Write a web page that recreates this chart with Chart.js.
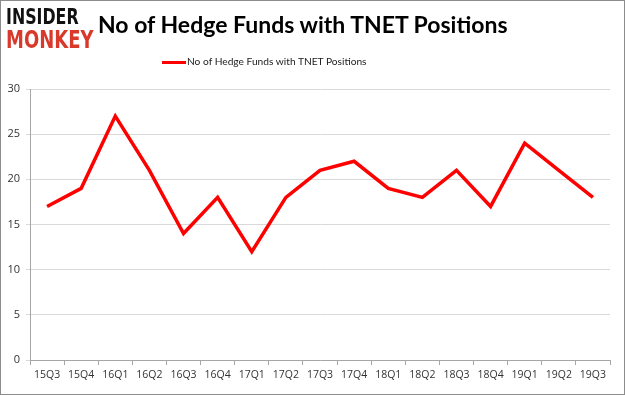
<!DOCTYPE html>
<html>
<head>
<meta charset="utf-8">
<script src="https://cdn.jsdelivr.net/npm/chart.js@4"></script>
<style>
  body { margin: 0; background: #fff; }
  #wrap { position: relative; width: 625px; height: 395px; box-sizing: border-box; border: 1px solid #8c8c8c; font-family: "Open Sans", sans-serif; }
  #logo { position: absolute; left: 5px; top: 5px; font-family: "DejaVu Sans", sans-serif; font-weight: bold; transform-origin: 0 0; transform: scaleX(0.72); }
  #logo .a { color: #111; font-size: 22px; line-height: 22px; }
  #logo .b { color: #d9392b; font-size: 25px; line-height: 24px; }
  #title { position: absolute; left: 97px; top: 9px; font-family: Lato, sans-serif; font-weight: bold; font-size: 23px; color: #000; }
  #legend { position: absolute; left: 161px; top: 54px; font-family: Lato, sans-serif; font-size: 10.2px; color: #222; }
  #legend i { display: inline-block; width: 24px; height: 3px; background: #ff0000; vertical-align: middle; margin-right: 1px; }
  canvas { position: absolute; left: 0; top: 0; }
</style>
</head>
<body>
<div id="wrap">
  <canvas id="c" width="623" height="393"></canvas>
  <div id="logo"><div class="a">INSIDER</div><div class="b">MONKEY</div></div>
  <div id="title">No of Hedge Funds with TNET Positions</div>
  <div id="legend"><i></i>No of Hedge Funds with TNET Positions</div>
</div>
<script>
const quarters = ['15Q3','15Q4','16Q1','16Q2','16Q3','16Q4','17Q1','17Q2','17Q3','17Q4','18Q1','18Q2','18Q3','18Q4','19Q1','19Q2','19Q3'];
const funds = [17, 19, 27, 21, 14, 18, 12, 18, 21, 22, 19, 18, 21, 17, 24, 21, 18];
const yTicks = [0, 5, 10, 15, 20, 25, 30];

new Chart(document.getElementById('c'), {
  type: 'line',
  data: {
    labels: quarters,
    datasets: [{
      label: 'No of Hedge Funds with TNET Positions',
      data: funds,
      borderColor: '#ff0000',
      borderWidth: 3.5,
      pointRadius: 0,
      tension: 0,
      fill: false
    }]
  },
  options: {
    responsive: false,
    animation: false,
    layout: { padding: { top: 88, right: 14, bottom: 0, left: 0 } },
    plugins: { legend: { display: false }, tooltip: { enabled: false } },
    scales: {
      x: {
        offset: true,
        afterFit: a => { a.height = 34; },
        grid: { display: true, drawOnChartArea: false, offset: true, color: '#a6a6a6', tickLength: 5 },
        border: { color: '#a6a6a6' },
        ticks: { color: '#333', font: { family: 'Open Sans', size: 10.5 }, maxRotation: 0, autoSkip: false, padding: 4 }
      },
      y: {
        min: 0, max: 30,
        afterFit: a => { a.width = 29; },
        afterBuildTicks: a => { a.ticks = yTicks.map(v => ({ value: v })); },
        grid: { color: '#d9d9d9', tickLength: 4, drawTicks: true },
        border: { color: '#a6a6a6' },
        ticks: { color: '#333', font: { family: 'Open Sans', size: 11 }, padding: 6 }
      }
    }
  }
});
</script>
</body>
</html>
